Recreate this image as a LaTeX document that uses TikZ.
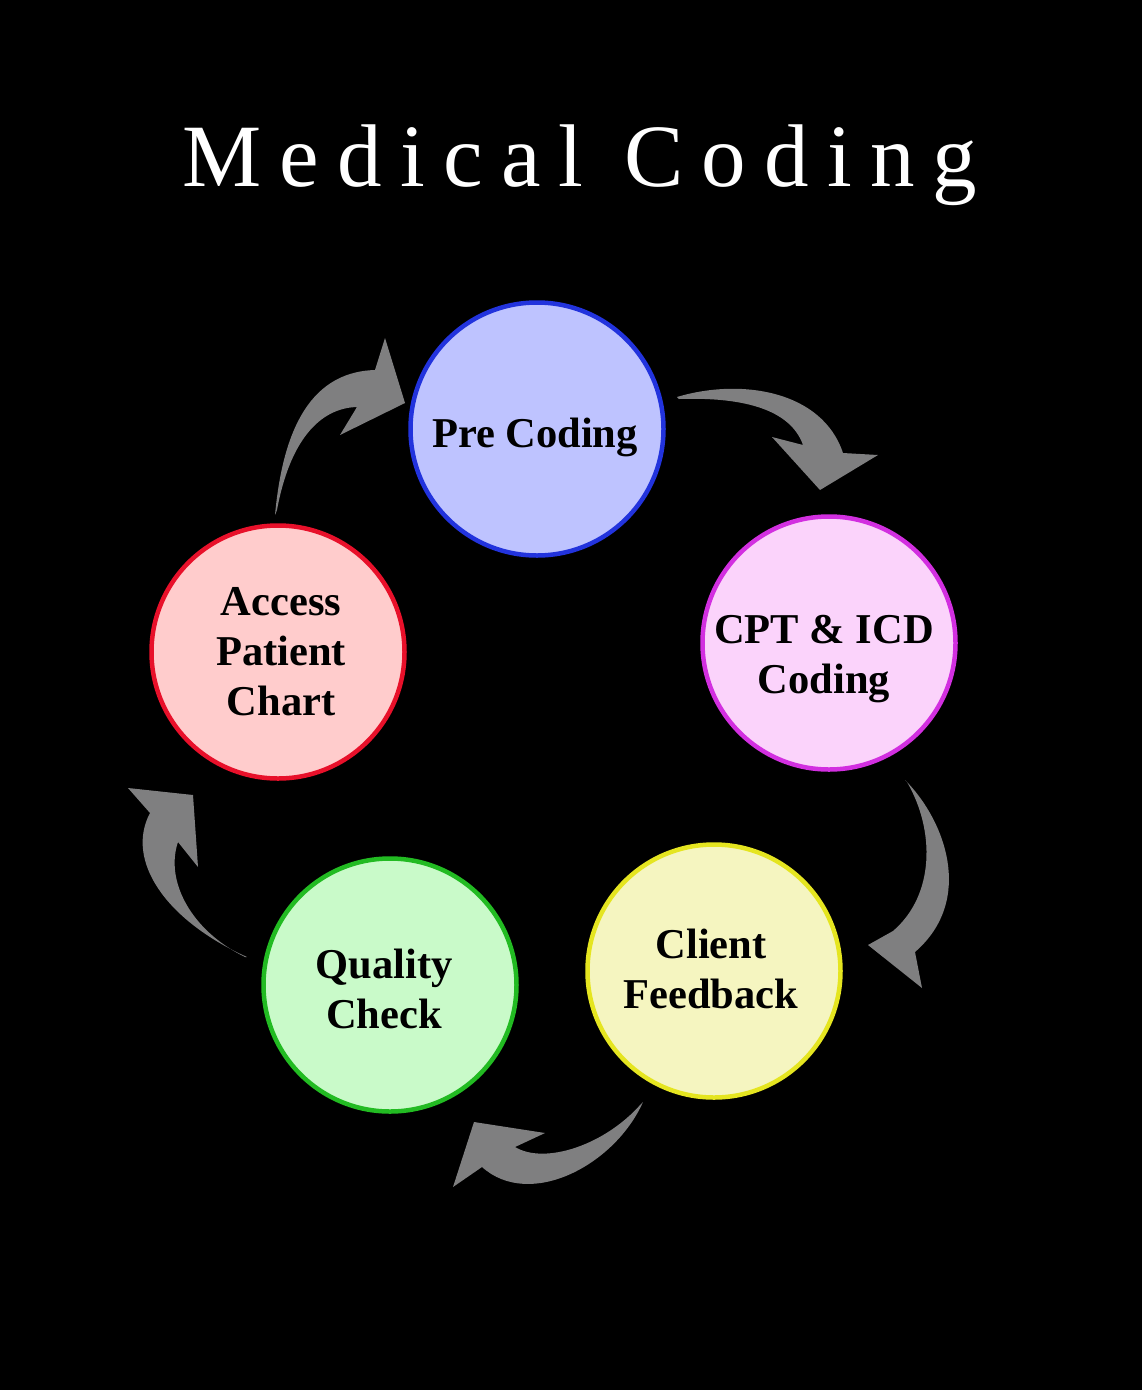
\documentclass[tikz,border=0pt]{standalone}
\usepackage{fontspec}
\setmainfont{Liberation Serif}
\definecolor{arrowgray}{HTML}{7F7F80}
\definecolor{preFill}{HTML}{BEC3FF}\definecolor{preLine}{HTML}{2233DD}
\definecolor{cptFill}{HTML}{FBD3FB}\definecolor{cptLine}{HTML}{D22FE0}
\definecolor{cliFill}{HTML}{F5F5C0}\definecolor{cliLine}{HTML}{E5E520}
\definecolor{quaFill}{HTML}{C9FAC9}\definecolor{quaLine}{HTML}{22BB22}
\definecolor{accFill}{HTML}{FFCCCC}\definecolor{accLine}{HTML}{E8102A}
\newcommand{\circlines}[1]{\parbox[t]{320pt}{\centering\fontsize{42.5}{50}\selectfont\bfseries #1}}
\begin{document}
\begin{tikzpicture}[x=1pt,y=-1pt,
  stage/.style={circle, minimum size=253pt, inner sep=0pt, line width=4.5pt},
  stagetext/.style={anchor=base, inner sep=0pt, text=black},
  cyclearrow/.style={fill=arrowgray, draw=none}]
\fill[black] (0,0) rectangle (1142,1390);
\useasboundingbox (0,0) rectangle (1142,1390);

\node (title) [anchor=base, inner sep=0pt, text=white,
  font=\fontsize{89}{100}\selectfont\addfontfeature{LetterSpace=20.5}] at (580,186) {Medical Coding};

\node (pre) [stage, draw=preLine, fill=preFill] at (537,429) {};
\node (cpt) [stage, draw=cptLine, fill=cptFill] at (829,643) {};
\node (cli) [stage, draw=cliLine, fill=cliFill] at (714,971) {};
\node (qua) [stage, draw=quaLine, fill=quaFill] at (390,985) {};
\node (acc) [stage, draw=accLine, fill=accFill] at (278,652) {};

\node (pretext) [stagetext] at (535,447) {\circlines{Pre Coding}};
\node (cpttext) [stagetext] at (824,643) {\circlines{CPT \& ICD\\Coding}};
\node (clitext) [stagetext] at (711,958) {\circlines{Client\\Feedback}};
\node (quatext) [stagetext] at (384,978) {\circlines{Quality\\Check}};
\node (acctext) [stagetext] at (281,615) {\circlines{Access\\Patient\\Chart}};

% Access -> Pre Coding
\path[cyclearrow] (275,515) .. controls (282,440) and (305,372) .. (375,370)
  -- (385,338) -- (405,403) -- (340,435) -- (357,407)
  .. controls (320,408) and (290,440) .. (277,510) -- cycle;
% Pre Coding -> CPT
\path[cyclearrow] (677,397) .. controls (740,378) and (822,390) .. (843,453)
  -- (878,455) -- (820,490) -- (772,437) -- (803,445)
  .. controls (790,408) and (740,397) .. (679,399) -- cycle;
% CPT -> Client Feedback
\path[cyclearrow] (905,780) .. controls (945,820) and (975,900) .. (915,952)
  -- (922,988) -- (868,945) -- (893,931)
  .. controls (935,895) and (935,830) .. (907,782) -- cycle;
% Client Feedback -> Quality Check
\path[cyclearrow] (643,1102) .. controls (615,1165) and (530,1210) .. (482,1167)
  -- (453,1187) -- (474,1122) -- (545,1133) -- (515,1147)
  .. controls (545,1165) and (605,1145) .. (641,1104) -- cycle;
% Quality Check -> Access
\path[cyclearrow] (247,957) .. controls (165,920) and (125,860) .. (150,813)
  -- (128,788) -- (193,795) -- (198,867) -- (178,842)
  .. controls (165,880) and (190,930) .. (245,957) -- cycle;
\end{tikzpicture}
\end{document}
